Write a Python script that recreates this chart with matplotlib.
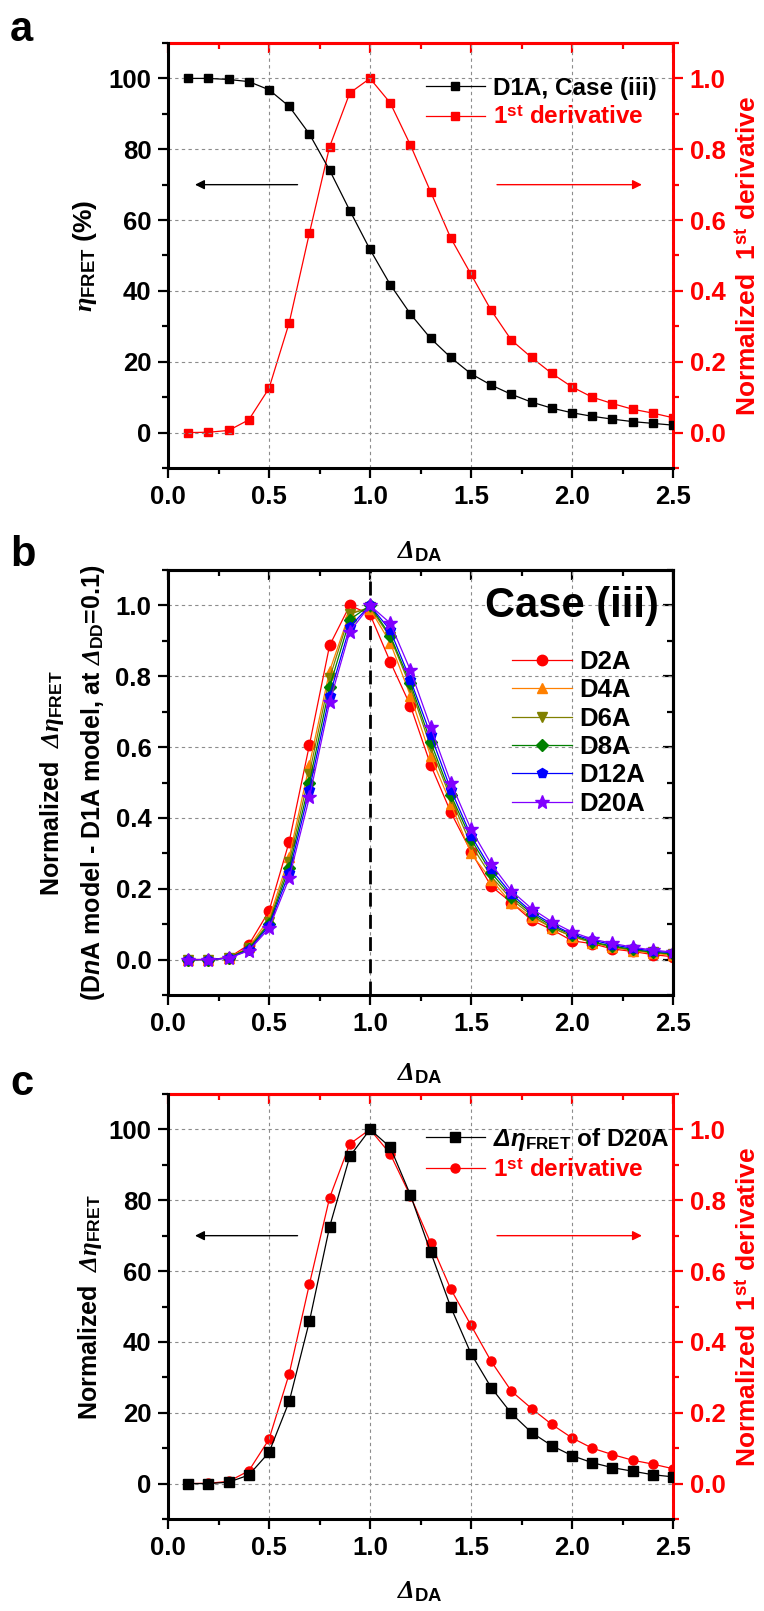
import matplotlib
matplotlib.use('Agg')
import matplotlib.pyplot as plt
from matplotlib.ticker import MultipleLocator
from matplotlib.lines import Line2D

plt.rcParams['font.family'] = ['Liberation Sans', 'DejaVu Sans']
plt.rcParams['font.weight'] = 'bold'
plt.rcParams['mathtext.fontset'] = 'custom'
plt.rcParams['mathtext.rm'] = 'Liberation Sans:bold'
plt.rcParams['mathtext.bf'] = 'Liberation Sans:bold'
plt.rcParams['mathtext.it'] = 'Liberation Serif:italic'
plt.rcParams['mathtext.cal'] = 'Liberation Serif:italic'
plt.rcParams['mathtext.sf'] = 'Liberation Sans:bold:italic'

# ---- data ----
delta_da = [0.1, 0.2, 0.3, 0.4, 0.5, 0.6, 0.7, 0.8, 0.9, 1.0, 1.1, 1.2, 1.3,
            1.4, 1.5, 1.6, 1.7, 1.8, 1.9, 2.0, 2.1, 2.2, 2.3, 2.4, 2.5]

eta_d1a = [100, 100, 99.7, 99.1, 96.8, 92.1, 84.3, 74.1, 62.7, 51.7, 41.8, 33.5, 26.6,
           21.2, 16.6, 13.4, 10.8, 8.6, 6.9, 5.6, 4.6, 3.8, 3.1, 2.6, 2.1]

deriv = [0.0, 0.001, 0.006, 0.036, 0.125, 0.31, 0.563, 0.807, 0.959, 1.0, 0.931, 0.812, 0.68,
         0.549, 0.447, 0.345, 0.261, 0.212, 0.167, 0.129, 0.10, 0.082, 0.066, 0.055, 0.042]

d2a = [0, 0, 0.005, 0.042, 0.137, 0.333, 0.606, 0.887, 1.0, 0.975, 0.841, 0.717, 0.55,
       0.416, 0.305, 0.207, 0.161, 0.111, 0.085, 0.053, 0.045, 0.03, 0.023, 0.014, 0.008]
d4a = [0, 0, 0.005, 0.035, 0.115, 0.29, 0.55, 0.815, 0.98, 0.99, 0.895, 0.745, 0.575,
       0.44, 0.30, 0.225, 0.16, 0.12, 0.09, 0.065, 0.048, 0.035, 0.025, 0.018, 0.012]
d6a = [0, 0, 0.005, 0.032, 0.105, 0.275, 0.525, 0.795, 0.975, 0.995, 0.91, 0.77, 0.60,
       0.455, 0.325, 0.235, 0.17, 0.125, 0.09, 0.066, 0.048, 0.036, 0.027, 0.02, 0.015]
d8a = [0, 0, 0.005, 0.03, 0.10, 0.26, 0.50, 0.77, 0.96, 1.0, 0.915, 0.78, 0.615,
       0.465, 0.34, 0.245, 0.178, 0.13, 0.095, 0.07, 0.05, 0.038, 0.029, 0.021, 0.016]
d12a = [0, 0, 0.004, 0.027, 0.095, 0.245, 0.48, 0.745, 0.94, 1.0, 0.93, 0.79, 0.635,
        0.48, 0.35, 0.255, 0.185, 0.135, 0.10, 0.072, 0.055, 0.042, 0.032, 0.024, 0.019]
d20a = [0, 0, 0.004, 0.025, 0.088, 0.23, 0.458, 0.726, 0.926, 1.0, 0.95, 0.817, 0.657,
        0.50, 0.368, 0.27, 0.194, 0.144, 0.107, 0.078, 0.058, 0.046, 0.035, 0.027, 0.021]

d_eta_d20a = [0, 0, 0.4, 2.4, 8.8, 23.2, 45.8, 72.5, 92.4, 100, 95.0, 81.5, 65.4,
              49.8, 36.7, 27.1, 19.8, 14.4, 10.7, 7.9, 5.9, 4.5, 3.5, 2.5, 1.9]

dna_names = ['D2A', 'D4A', 'D6A', 'D8A', 'D12A', 'D20A']
dna_series = [d2a, d4a, d6a, d8a, d12a, d20a]
dna_colors = ['#FF0000', '#FF8000', '#808000', '#008000', '#0000FF', '#8000FF']
dna_markers = ['o', '^', 'v', 'D', 'p', '*']

W, H = 764, 1611
TICK = 18.5
fig = plt.figure(figsize=(W / 100, H / 100), dpi=100)


def rect(top, bottom, left=168, right=673):
    return [left / W, 1 - bottom / H, (right - left) / W, (bottom - top) / H]


def base_style(ax, ylim, ymaj, ymin):
    ax.set_xlim(0, 2.5)
    ax.set_ylim(*ylim)
    ax.xaxis.set_major_locator(MultipleLocator(0.5))
    ax.xaxis.set_minor_locator(MultipleLocator(0.25))
    ax.yaxis.set_major_locator(MultipleLocator(ymaj))
    ax.yaxis.set_minor_locator(MultipleLocator(ymin))
    ax.tick_params(which='both', direction='out', width=1.6, labelsize=TICK,
                   top=False, right=False, pad=5)
    ax.tick_params(which='major', length=7)
    ax.tick_params(which='minor', length=4)
    ax.grid(True, which='major', color='#8c8c8c', ls=(0, (3, 3)), lw=0.8)
    for s in ax.spines.values():
        s.set_linewidth(2.2)


def top_ticks(ax, color):
    sec = ax.secondary_xaxis('top')
    sec.xaxis.set_major_locator(MultipleLocator(0.5))
    sec.xaxis.set_minor_locator(MultipleLocator(0.25))
    sec.tick_params(which='both', direction='in', color=color, width=1.6,
                    labeltop=False, labelbottom=False)
    sec.tick_params(which='major', length=7)
    sec.tick_params(which='minor', length=4)
    sec.spines['top'].set_color(color)
    sec.spines['top'].set_linewidth(2.2)


def twin_red(ax):
    ax2 = ax.twinx()
    ax2.set_ylim(-0.1, 1.1)
    ax2.yaxis.set_major_locator(MultipleLocator(0.2))
    ax2.yaxis.set_minor_locator(MultipleLocator(0.1))
    ax2.tick_params(which='both', direction='out', width=1.6, labelsize=TICK,
                    color='red', labelcolor='red', pad=5)
    ax2.tick_params(which='major', length=7)
    ax2.tick_params(which='minor', length=4)
    for k in ['left', 'bottom']:
        ax2.spines[k].set_visible(False)
    for k in ['right', 'top']:
        ax2.spines[k].set_color('red')
        ax2.spines[k].set_linewidth(2.2)
    ax.spines['top'].set_visible(False)
    ax.spines['right'].set_visible(False)
    return ax2


def arrows(ax):
    ax.annotate('', xy=(0.12, 70), xytext=(0.655, 70),
                arrowprops=dict(arrowstyle='-|>', color='black', lw=1, mutation_scale=14))
    ax.annotate('', xy=(2.36, 70), xytext=(1.615, 70),
                arrowprops=dict(arrowstyle='-|>', color='red', lw=1, mutation_scale=14))


def fig_label(x, y, s, rot=90, color='black', size=18):
    fig.text(x / W, 1 - y / H, s, rotation=rot, ha='center', va='center',
             color=color, fontsize=size, fontweight='bold')


xlab = r'$\mathcal{Δ}_{\mathbf{DA}}$'
deriv_lab = r'1$^{\mathbf{st}}$ derivative'
right_lab = r'Normalized  1$^{\mathbf{st}}$ derivative'
leg_kw = dict(loc='upper left', frameon=False, fontsize=17.5, handlelength=2.42,
              handletextpad=0.33, labelspacing=0.25, borderpad=0, borderaxespad=0,
              numpoints=1)

# ---------------- panel a ----------------
axa = fig.add_axes(rect(43, 468))
base_style(axa, (-10, 110), 20, 10)
axa2 = twin_red(axa)
top_ticks(axa, 'red')
axa.set_zorder(axa2.get_zorder() + 1)
axa.patch.set_visible(False)
axa2.plot(delta_da, deriv, color='red', lw=0.9, marker='s', ms=6, mec='red', mfc='red')
axa.plot(delta_da, eta_d1a, color='black', lw=0.9, marker='s', ms=6)
arrows(axa)
h1 = Line2D([], [], color='black', lw=0.9, marker='s', ms=6)
h2 = Line2D([], [], color='red', lw=0.9, marker='s', ms=6)
leg = axa.legend([h1, h2], ['D1A, Case (iii)', deriv_lab],
                 bbox_to_anchor=(0.511, 0.92), **leg_kw)
leg.get_texts()[1].set_color('red')

fig_label(85, 256, r'$\mathit{\eta}_{\mathbf{FRET}}$ (%)', size=19)
fig_label(749, 256, right_lab, color='red', size=19)
fig_label(420, 552, xlab, rot=0, size=19)
fig.text(10 / W, 1 - 30 / H, 'a', fontsize=30, fontweight='bold', va='center', ha='left')

# ---------------- panel b ----------------
axb = fig.add_axes(rect(570, 995))
base_style(axb, (-0.1, 1.1), 0.2, 0.1)
top_ticks(axb, 'black')
secy = axb.secondary_yaxis('right')
secy.yaxis.set_major_locator(MultipleLocator(0.2))
secy.yaxis.set_minor_locator(MultipleLocator(0.1))
secy.tick_params(which='both', direction='in', width=1.6, labelright=False, labelleft=False)
secy.tick_params(which='major', length=7)
secy.tick_params(which='minor', length=4)
secy.spines['right'].set_linewidth(2.2)
axb.axvline(1.0, color='black', ls=(0, (5, 3)), lw=2)
handles = []
for name, ser, col, mk in zip(dna_names, dna_series, dna_colors, dna_markers):
    ms = 10 if mk == '*' else (6.5 if mk == 'D' else 7.5)
    ln, = axb.plot(delta_da, ser, color=col, lw=0.9, marker=mk, ms=ms, mec=col, mfc=col,
                   label=name)
    handles.append(ln)
legb = axb.legend(handles=handles, loc='upper left', bbox_to_anchor=(0.681, 0.812),
                  frameon=False, fontsize=18.5, handlelength=2.33, handletextpad=0.31,
                  labelspacing=0.17, borderpad=0, borderaxespad=0, numpoints=1)
axb.text(0.80, 0.915, 'Case (iii)', transform=axb.transAxes, fontsize=30,
         fontweight='bold', ha='center', va='center')

fig_label(52, 783, r'Normalized  $\mathcal{Δ}\mathit{\eta}_{\mathbf{FRET}}$')
fig_label(93, 783, r'(D$\mathsf{n}$A model - D1A model, at $\mathcal{Δ}_{\mathbf{DD}}$=0.1)')
fig_label(420, 1074, xlab, rot=0, size=19)
fig.text(10 / W, 1 - 555 / H, 'b', fontsize=30, fontweight='bold', va='center', ha='left')

# ---------------- panel c ----------------
axc = fig.add_axes(rect(1094, 1519))
base_style(axc, (-10, 110), 20, 10)
axc2 = twin_red(axc)
top_ticks(axc, 'red')
axc.set_zorder(axc2.get_zorder() + 1)
axc.patch.set_visible(False)
axc2.plot(delta_da, deriv, color='red', lw=0.9, marker='o', ms=6.5, mec='red', mfc='red')
axc.plot(delta_da, d_eta_d20a, color='black', lw=0.9, marker='s', ms=6.5)
arrows(axc)
h1 = Line2D([], [], color='black', lw=0.9, marker='s', ms=6.5)
h2 = Line2D([], [], color='red', lw=0.9, marker='o', ms=6.5)
legc = axc.legend([h1, h2], [r'$\mathsf{Δη}_{\mathbf{FRET}}$ of D20A', deriv_lab],
                  bbox_to_anchor=(0.511, 0.925), **leg_kw)
legc.get_texts()[1].set_color('red')

fig_label(90, 1307, r'Normalized  $\mathcal{Δ}\mathit{\eta}_{\mathbf{FRET}}$')
fig_label(749, 1307, right_lab, color='red', size=19)
fig_label(420, 1592, xlab, rot=0, size=19)
fig.text(10 / W, 1 - 1084 / H, 'c', fontsize=30, fontweight='bold', va='center', ha='left')

fig.savefig('out.png', dpi=100)
